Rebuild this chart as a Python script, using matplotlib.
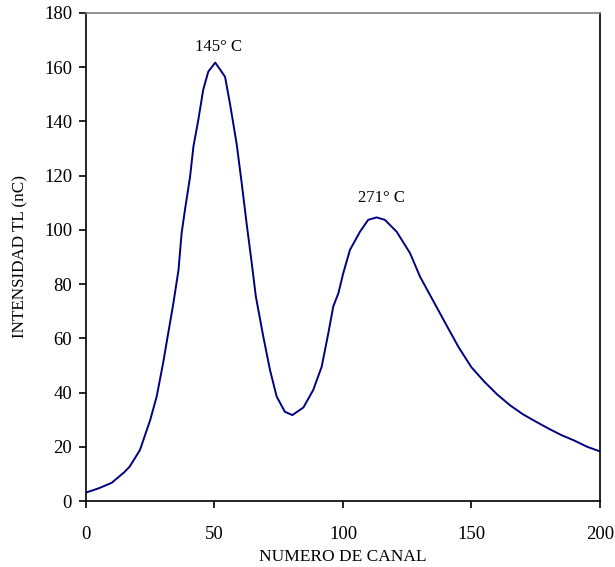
import matplotlib
matplotlib.use('Agg')
import matplotlib.pyplot as plt

# canal vs intensidad TL
canal = [0, 5, 10, 15, 17, 21, 25, 27.5, 30, 32, 34, 36, 37.2, 38.5, 40.5,
         41.8, 43.7, 45.6, 47.6, 50.3, 54.1, 56, 58.6, 60.6, 62.5, 64.5,
         66.1, 69, 71.6, 74.2, 77.4, 80.3, 84.6, 88.4, 91.7, 94.3, 96.2,
         98.2, 100.1, 102.7, 106.6, 109.8, 113.1, 116.3, 120.9, 126.1, 130,
         135, 140, 145, 150, 155, 160, 165, 170, 175, 180, 185, 190, 195, 200]
intensidad = [3.1, 4.7, 6.7, 10.7, 12.7, 18.8, 29.9, 38.5, 50.8, 61.9, 72.9,
              85.2, 98.7, 107.3, 119.6, 130.7, 140.5, 151.6, 158.4, 161.7,
              156.5, 146.7, 131.9, 117.2, 102.4, 87.7, 75.4, 60.6, 48.3,
              38.5, 32.9, 31.7, 34.5, 40.9, 49.5, 61.9, 71.7, 76.6, 84.0,
              92.6, 99.3, 103.7, 104.6, 103.7, 99.3, 91.4, 82.7, 74, 65.3,
              56.7, 49.3, 44, 39.3, 35.3, 32, 29.3, 26.7, 24.3, 22.3, 20, 18.3]

picos = ['145° C', '271° C']
picos_x = [51.4, 114.8]
picos_y = [167.5, 111.8]

plt.rcParams['font.family'] = ['Liberation Serif', 'DejaVu Serif']

fig = plt.figure(figsize=(6.15, 5.67), dpi=100)
ax = fig.add_axes([0.1398, 0.1164, 0.8358, 0.8607])

ax.plot(canal, intensidad, color='#000080', lw=1.4)

for txt, px, py in zip(picos, picos_x, picos_y):
    ax.text(px, py, txt, ha='center', va='center', fontsize=12)

ax.set_xlim(0, 200)
ax.set_ylim(0, 180)
ax.set_xticks([0, 50, 100, 150, 200])
ax.set_yticks(range(0, 181, 20))
ax.tick_params(axis='both', direction='out', length=5, width=1.2,
               labelsize=13.5)
ax.tick_params(axis='x', pad=13)
ax.tick_params(axis='y', pad=5)

for s in ['left', 'bottom', 'right']:
    ax.spines[s].set_color('black')
    ax.spines[s].set_linewidth(1.2)
ax.spines['top'].set_color('#808080')
ax.spines['top'].set_linewidth(1.2)

ax.set_xlabel('NUMERO DE CANAL', fontsize=12.5, labelpad=4)
ax.set_ylabel('INTENSIDAD TL (nC)', fontsize=12.3, labelpad=11)

fig.savefig('out.png', dpi=100)
